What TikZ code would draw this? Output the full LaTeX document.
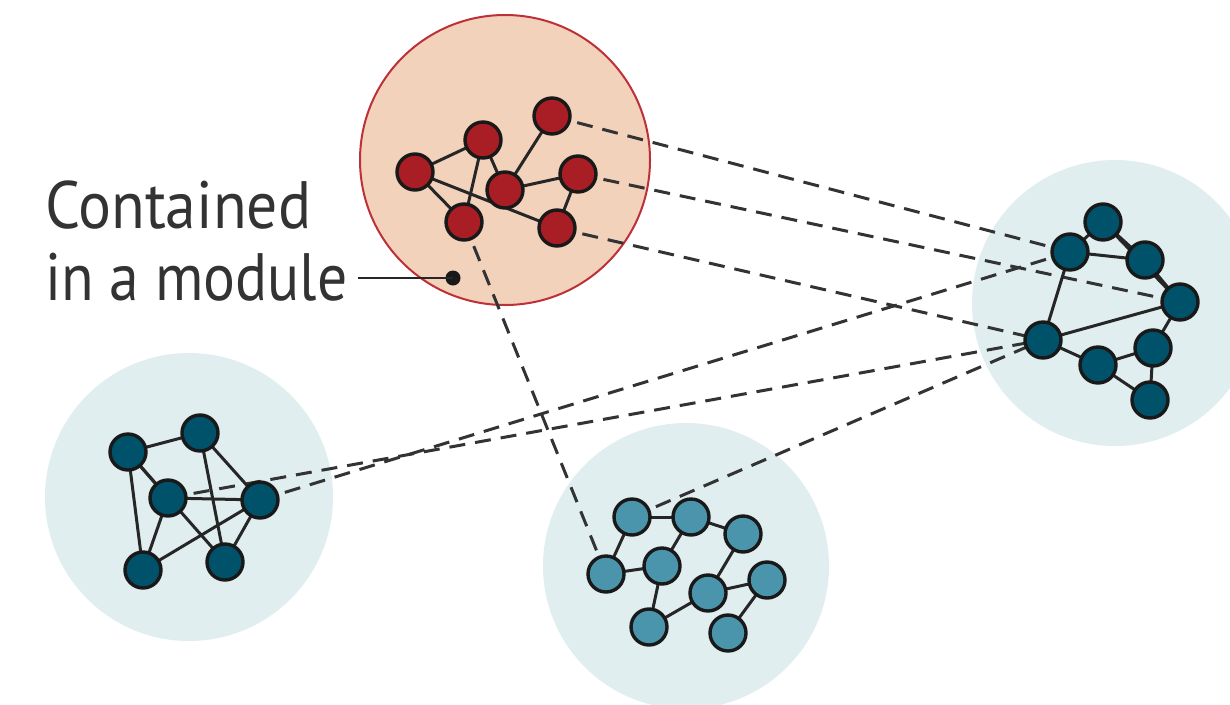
\documentclass[tikz,border=0pt]{standalone}
\usepackage{fontspec}
\setmainfont{PT Sans}
\usepackage{graphicx}
\definecolor{modfill}{HTML}{E0EEEF}
\definecolor{redfill}{HTML}{F2D2BB}
\definecolor{redline}{HTML}{BE3038}
\definecolor{rednode}{HTML}{A81E24}
\definecolor{darkteal}{HTML}{00516A}
\definecolor{lightteal}{HTML}{4B95AC}
\definecolor{txt}{HTML}{333333}
\pgfdeclarelayer{mods}
\pgfdeclarelayer{lines}
\pgfsetlayers{mods,lines,main}
\tikzset{
  nd/.style={circle, draw=black!90, line width=3.4pt, minimum size=36pt, inner sep=0pt},
  rn/.style={nd, fill=rednode},
  dn/.style={nd, fill=darkteal},
  ln/.style={nd, fill=lightteal},
  edge/.style={draw=black!85, line width=3pt},
  link/.style={draw=black!80, line width=3pt, dash pattern=on 16pt off 10pt},
  lbl/.style={anchor=base west, inner sep=0pt, text=txt, font=\fontsize{67}{72}\selectfont}
}
\begin{document}
\begin{tikzpicture}[x=1pt,y=-1pt]
\useasboundingbox (0,0) rectangle (1230,704);
% modules
\begin{pgfonlayer}{mods}
\fill[modfill] (189,497) circle (144);
\fill[modfill] (686,566) circle (143);
\fill[modfill] (1115,303) circle (143);
\filldraw[fill=redfill, draw=redline, line width=2pt] (505,160) circle (145);
\end{pgfonlayer}
% red nodes
\node[rn] (a) at (415,172) {};
\node[rn] (b) at (483,140) {};
\node[rn] (c) at (552,116) {};
\node[rn] (d) at (505,190) {};
\node[rn] (e) at (578,174) {};
\node[rn] (f) at (464,222) {};
\node[rn] (g) at (557,228) {};
% right nodes
\node[dn] (r1) at (1103,222) {};
\node[dn] (r2) at (1070,252) {};
\node[dn] (r3) at (1145,260) {};
\node[dn] (r4) at (1180,302) {};
\node[dn] (r5) at (1043,340) {};
\node[dn] (r6) at (1098,365) {};
\node[dn] (r7) at (1153,348) {};
\node[dn] (r8) at (1150,400) {};
% left nodes
\node[dn] (l1) at (128,452) {};
\node[dn] (l2) at (200,433) {};
\node[dn] (l3) at (168,498) {};
\node[dn] (l4) at (260,500) {};
\node[dn] (l5) at (143,570) {};
\node[dn] (l6) at (225,562) {};
% bottom nodes
\node[ln] (b1) at (632,517) {};
\node[ln] (b2) at (691,517) {};
\node[ln] (b3) at (743,534) {};
\node[ln] (b4) at (606,574) {};
\node[ln] (b5) at (662,566) {};
\node[ln] (b6) at (708,593) {};
\node[ln] (b7) at (767,580) {};
\node[ln] (b8) at (649,627) {};
\node[ln] (b9) at (728,633) {};
% edges and links behind nodes
\begin{pgfonlayer}{lines}
\draw[link] (c.center) -- (r2.center);
\draw[link] (e.center) -- (r4.center);
\draw[link] (g.center) -- (r5.center);
\draw[link] (f.center) -- (b4.center);
\draw[link] (l4.center) -- (r2.center);
\draw[link] (l3.center) -- (r5.center);
\draw[link] (b1.center) -- (r5.center);
% red module
\draw[edge] (a.center) -- (b.center);
\draw[edge] (a.center) -- (f.center);
\draw[edge] (a.center) -- (g.center);
\draw[edge] (b.center) -- (f.center);
\draw[edge] (b.center) -- (d.center);
\draw[edge] (c.center) -- (d.center);
\draw[edge] (d.center) -- (e.center);
\draw[edge] (e.center) -- (g.center);
% left module
\draw[edge] (l1.center) -- (l2.center);
\draw[edge] (l1.center) -- (l3.center);
\draw[edge] (l1.center) -- (l6.center);
\draw[edge] (l1.center) -- (l5.center);
\draw[edge] (l2.center) -- (l4.center);
\draw[edge] (l2.center) -- (l6.center);
\draw[edge] (l3.center) -- (l4.center);
\draw[edge] (l3.center) -- (l5.center);
\draw[edge] (l4.center) -- (l5.center);
\draw[edge] (l4.center) -- (l6.center);
% right module
\draw[edge] (r1.center) -- (r2.center);
\draw[edge] (r1.center) -- (r3.center);
\draw[edge] (r1.center) -- (r4.center);
\draw[edge] (r2.center) -- (r3.center);
\draw[edge] (r3.center) -- (r4.center);
\draw[edge] (r2.center) -- (r5.center);
\draw[edge] (r5.center) -- (r4.center);
\draw[edge] (r4.center) -- (r7.center);
\draw[edge] (r5.center) -- (r6.center);
\draw[edge] (r6.center) -- (r7.center);
\draw[edge] (r7.center) -- (r8.center);
\draw[edge] (r6.center) -- (r8.center);
% bottom module
\draw[edge] (b1.center) -- (b2.center);
\draw[edge] (b1.center) -- (b4.center);
\draw[edge] (b2.center) -- (b3.center);
\draw[edge] (b2.center) -- (b5.center);
\draw[edge] (b4.center) -- (b5.center);
\draw[edge] (b5.center) -- (b8.center);
\draw[edge] (b3.center) -- (b6.center);
\draw[edge] (b6.center) -- (b7.center);
\draw[edge] (b6.center) -- (b8.center);
\draw[edge] (b7.center) -- (b9.center);
\end{pgfonlayer}
% label
\node[lbl] (t1) at (45,228) {\scalebox{0.92}[1]{Contained}};
\node[lbl] (t2) at (45,300) {\scalebox{0.89}[1]{in a module}};
\fill[black!90] (453,278) circle (7.5) coordinate (dot);
\coordinate (lstart) at (358,278);
\draw[black!85, line width=2.8pt] (lstart) -- (dot);
\end{tikzpicture}
\end{document}
